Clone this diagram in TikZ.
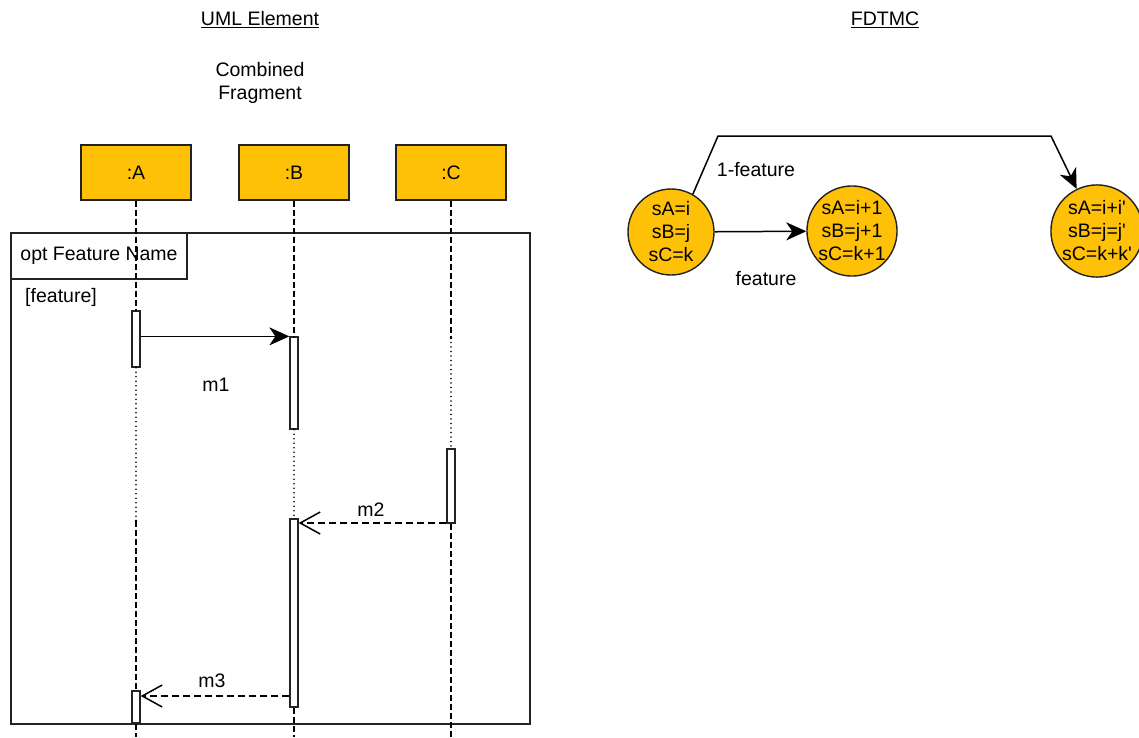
\documentclass[tikz,border=0pt]{standalone}
\usepackage{fontspec}
\setmainfont{Liberation Sans}
\usetikzlibrary{arrows.meta}
\definecolor{amber}{RGB}{255,193,7}
\definecolor{edge}{RGB}{35,35,35}
\tikzset{
  lbl/.style={font=\fontsize{19.5}{23}\selectfont, inner sep=0pt},
  head/.style={draw=edge, line width=1.4pt, fill=amber, minimum width=110pt, minimum height=55pt, font=\fontsize{19.5}{23}\selectfont},
  act/.style={draw=edge, line width=1.3pt, fill=white, minimum width=8pt, inner sep=0pt},
  lifedash/.style={line width=1.2pt, dash pattern=on 6pt off 3pt},
  lifedot/.style={line width=1.7pt, line cap=round, dash pattern=on 0pt off 4.5pt},
  state/.style={circle, draw=edge, line width=1.4pt, fill=amber, minimum size=86pt, inner sep=0pt, align=center, font=\fontsize{19.5}{23}\selectfont},
  sync/.style={line width=1.5pt, -{Stealth[length=20pt,width=18pt,inset=6pt]}},
  reply/.style={line width=1.5pt, dash pattern=on 7pt off 4pt, -{Straight Barb[length=20pt,width=22pt,line width=1.5pt]}},
}
\begin{document}
\begin{tikzpicture}[x=1pt,y=-1pt]
\useasboundingbox (0,0) rectangle (1139,737);

% titles
\node[lbl] (t1) at (260,20) {\underline{UML Element}};
\node[lbl] (t2) at (885,20) {\underline{FDTMC}};
\node[lbl, align=center] (cf) at (260,83) {Combined\\Fragment};

% combined fragment frame
\draw[line width=1.5pt, edge] (11,233) rectangle (530,724);
\draw[line width=1.5pt, edge] (11,279) -| (187,233);
\node[lbl] (optlbl) at (99,256) {opt Feature Name};
\node[lbl] (guard) at (61,297) {[feature]};

% lifeline heads
\node[head] (A) at (136,172.5) {:A};
\node[head] (B) at (294,172.5) {:B};
\node[head] (C) at (451,172.5) {:C};

% activation bars
\node[act, minimum height=56pt] (A1) at (136,339) {};
\node[act, minimum height=32pt] (A2) at (136,707) {};
\node[act, minimum height=92pt] (B1) at (294,383) {};
\node[act, minimum height=188pt] (B2) at (294,613) {};
\node[act, minimum height=74pt] (C1) at (451,486) {};

\coordinate (Aend) at (136,737);
\coordinate (Bend) at (294,737);
\coordinate (Cend) at (451,737);
\coordinate (Amid) at (136,521);
\coordinate (Cmid) at (451,338);

% lifelines
\draw[lifedash] (A.south) -- (A1.north);
\draw[lifedot] (A1.south) -- (Amid);
\draw[lifedash] (Amid) -- (A2.north);
\draw[lifedash] (A2.south) -- (Aend);
\draw[lifedash] (B.south) -- (B1.north);
\draw[lifedot] (B1.south) -- (B2.north);
\draw[lifedash] (B2.south) -- (Bend);
\draw[lifedash] (C.south) -- (Cmid);
\draw[lifedot] (Cmid) -- (C1.north);
\draw[lifedash] (C1.south) -- (Cend);
\fill (Amid) circle (1.3pt);
\fill (Cmid) circle (1.3pt);

% messages
\draw[sync] (A1.east |- B1.north) -- (B1.north west);
\node[lbl] (m1) at (216,385) {m1};
\draw[reply] (C1.west |- 0,523) -- (B2.east |- 0,523);
\node[lbl] (m2) at (371,510) {m2};
\draw[reply] (B2.west |- 0,696) -- (A2.east |- 0,696);
\node[lbl] (m3) at (212,681) {m3};

% FDTMC states
\node[state] (s0) at (671,232) {sA=i\\sB=j\\sC=k};
\node[state] (s1) at (852,231) {sA=i+1\\sB=j+1\\sC=k+1};
\node[state] (s2) at (1097,231) {sA=i+i\textquotesingle\\sB=j=j\textquotesingle\\sC=k+k\textquotesingle};

\coordinate (up1) at (718,136);
\coordinate (up2) at (1051,136);
\draw[sync] (s0) -- (s1);
\draw[sync] (s0.60) -- (up1) -- (up2) -- (s2);
\node[lbl] (pf) at (766,279) {feature};
\node[lbl] (pn) at (756,170) {1-feature};
\end{tikzpicture}
\end{document}
